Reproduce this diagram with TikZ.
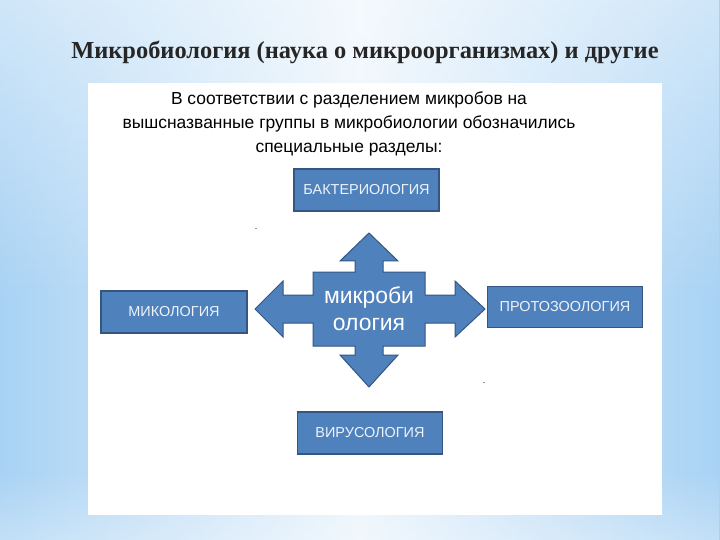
\documentclass[tikz,border=0pt]{standalone}
\usepackage{fontspec}
\setmainfont{Liberation Serif}
\setsansfont{Liberation Sans}
\usetikzlibrary{positioning,fadings}

\definecolor{skyside}{RGB}{168,210,244}
\definecolor{skymid}{RGB}{236,245,252}
\definecolor{boxblue}{RGB}{79,129,189}
\definecolor{boxline}{RGB}{52,86,130}
\definecolor{titlegray}{RGB}{38,38,38}

\begin{document}
\begin{tikzpicture}[
  x=1bp,y=-1bp,
  box/.style={draw=boxline,fill=boxblue,line width=1.2bp,inner sep=0pt,
    minimum width=145bp,minimum height=42bp,text=white!90!boxblue,
    font=\sffamily\fontsize{14.5}{16}\selectfont},
  crossarrow/.style={draw=boxline,fill=boxblue,line width=1bp,line join=miter}
]
% background of the slide
\useasboundingbox (0,0) rectangle (720,540);
\shade[left color=skyside,right color=skyside,middle color=skymid] (0,0) rectangle (720,540);
\fill[white,opacity=0.45,path fading=south] (0,0) rectangle (720,300);
\fill[white,opacity=0.3,path fading=north] (0,470) rectangle (720,540);
\fill[white] (88,83) rectangle (662,515);

% texts
\node[font=\bfseries\fontsize{24.5}{28}\selectfont,text=titlegray] (title) at (365,52)
  {Микробиология (наука о микроорганизмах) и другие};
\node[font=\sffamily\fontsize{17.5}{24.5}\selectfont,align=center] (intro) at (349,124)
  {В соответствии с разделением микробов на\\
   вышсназванные группы в микробиологии обозначились\\
   специальные разделы:};

% the four branches
\node[box] (bact) at (366.5,190) {БАКТЕРИОЛОГИЯ};
\node[box,minimum width=146bp] (myco) at (174,312) {МИКОЛОГИЯ};
\node[box,minimum width=155bp,minimum height=41bp] (proto) at (565,307) {ПРОТОЗООЛОГИЯ};
\node[box] (viro) at (370,433) {ВИРУСОЛОГИЯ};

% four-way arrow in the middle
\draw[crossarrow] (369,233) -- (398,261) -- (383,261) -- (383,272) -- (425,272)
  -- (425,295) -- (455,295) -- (455,281) -- (485,309) -- (455,337) -- (455,323)
  -- (425,323) -- (425,346) -- (383,346) -- (383,355) -- (398,355) -- (369,387)
  -- (340,355) -- (355,355) -- (355,346) -- (313,346) -- (313,323) -- (283,323)
  -- (283,337) -- (255,309) -- (283,281) -- (283,295) -- (313,295) -- (313,272)
  -- (355,272) -- (355,261) -- (340,261) -- cycle;
\node[align=center,text=white,font=\sffamily\fontsize{23}{27}\selectfont] (micro) at (369,309)
  {микроби\\ология};

% stray dots
\node[font=\sffamily\fontsize{9}{9}\selectfont,inner sep=0pt] (dotA) at (256,229) {.};
\node[font=\sffamily\fontsize{9}{9}\selectfont,inner sep=0pt] (dotB) at (484,383) {.};
\end{tikzpicture}
\end{document}
